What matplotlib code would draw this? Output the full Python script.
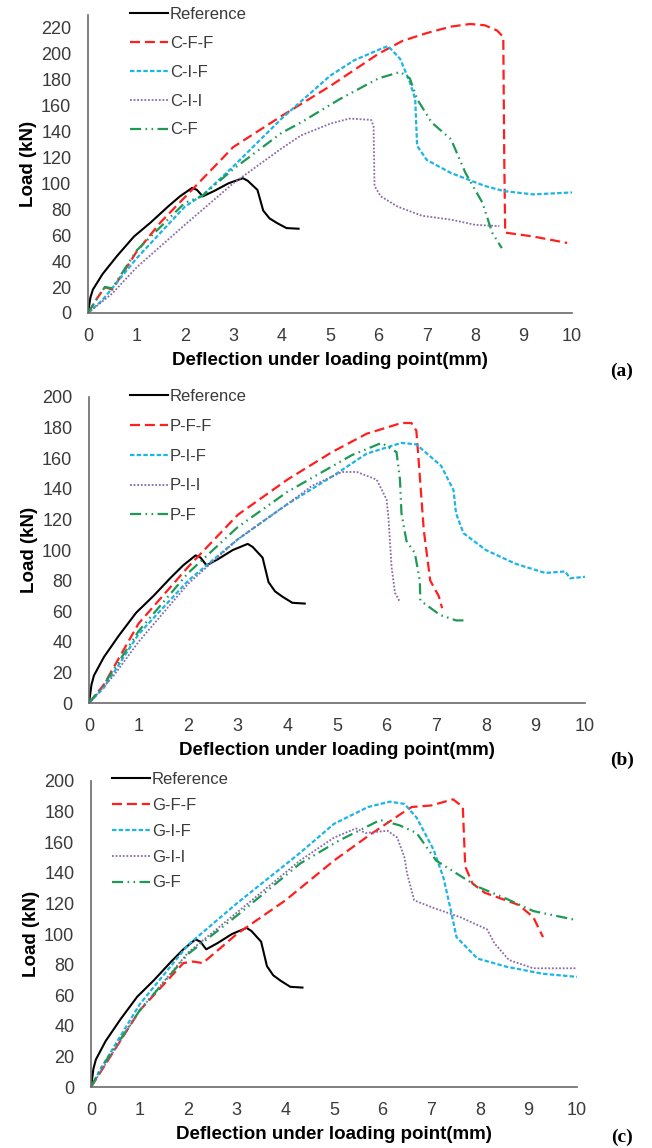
import matplotlib
matplotlib.use('Agg')
import matplotlib.pyplot as plt

plt.rcParams['font.family'] = ['Liberation Sans', 'DejaVu Sans']

# reference beam (same curve in every panel)
ref_x = [0, 0.05, 0.1, 0.3, 0.6, 0.95, 1.3, 1.65, 1.9, 2.15, 2.25, 2.37, 2.6, 2.9, 3.2, 3.3, 3.5, 3.62, 3.75, 3.9, 4.1, 4.35]
ref_y = [0, 12, 18, 30, 44, 59, 70, 82, 90, 96.5, 95, 90, 94, 100, 104, 102, 95, 79, 73, 69.5, 65.5, 65]

# (a) C series
cff_x = [0, 0.2, 0.35, 0.5, 1, 1.5, 2.2, 3, 4, 5, 6, 6.5, 7, 7.5, 7.9, 8.2, 8.45, 8.58, 8.6, 8.62, 9.2, 9.9]
cff_y = [0, 12, 20, 18, 47, 70, 97, 128, 152, 175, 200, 210, 216, 221, 223, 222, 218, 213, 120, 62, 59, 54]
cif_x = [0, 0.3, 1, 2, 2.4, 3, 4, 5, 5.5, 6.0, 6.2, 6.45, 6.65, 6.76, 6.8, 7.0, 7.5, 8.2, 8.6, 9.2, 10.0]
cif_y = [0, 10, 42, 82, 92, 113, 150, 183, 195, 203, 206, 196, 178, 165, 129, 118, 108, 98, 94, 91.5, 93]
cii_x = [0, 0.5, 1, 2, 3, 4, 4.4, 5, 5.4, 5.85, 5.9, 5.92, 6.05, 6.4, 6.9, 7.5, 8.0, 8.5]
cii_y = [0, 15, 35, 68, 100, 127, 137, 146, 150, 149, 144, 98, 90, 82, 75, 72, 68, 67]
cf_x = [0, 0.2, 0.35, 0.5, 1, 2, 2.35, 3, 4, 4.4, 5.2, 6.0, 6.45, 6.65, 6.8, 7.1, 7.5, 7.8, 8.15, 8.35, 8.55]
cf_y = [0, 12, 20, 19, 48, 85, 90, 111, 139, 147, 165, 181, 186, 181, 165, 147, 134, 108, 85, 62, 50]

# (b) P series
pff_x = [0, 0.3, 1, 2, 3, 4, 4.9, 5.6, 6.3, 6.5, 6.6, 6.65, 6.75, 6.88, 7.05, 7.12]
pff_y = [0, 12, 52, 89, 123, 146, 164, 176, 183, 183, 178, 157, 113, 80, 70, 62]
pif_x = [0, 0.3, 1, 2, 3, 4, 4.9, 5.6, 6.3, 6.6, 7.1, 7.35, 7.4, 7.55, 8.0, 8.6, 9.2, 9.6, 9.7, 10]
pif_y = [0, 10, 45, 80, 107, 130, 148, 163, 170, 169, 155, 139, 124, 111, 100, 91, 85, 86, 81.5, 82.5]
pii_x = [0, 0.5, 1, 2, 3, 4, 4.5, 5.1, 5.4, 5.8, 6.0, 6.04, 6.1, 6.17, 6.27]
pii_y = [0, 18, 40, 78, 107, 130, 142, 151, 151, 146, 133, 120, 89, 72, 66]
pf_x = [0, 0.3, 1, 2, 3, 4, 5.3, 5.9, 6.2, 6.27, 6.3, 6.4, 6.57, 6.67, 6.68, 7.08, 7.4, 7.55]
pf_y = [0, 12, 47, 85, 115, 138, 162, 170, 164, 146, 124, 106, 98, 80, 67, 57.5, 54, 54]

# (c) G series
gff_x = [0, 0.2, 1, 1.9, 2.1, 2.3, 3, 4, 5, 5.7, 6.4, 6.6, 7.0, 7.45, 7.65, 7.7, 7.85, 8.1, 8.8, 9.1, 9.3]
gff_y = [0, 10, 50, 81, 82, 81, 100, 122, 148, 164, 179, 183, 184, 188, 183, 144, 133, 127, 119, 111, 98]
gif_x = [0, 0.2, 1, 2, 3, 4.3, 5, 5.7, 6.15, 6.45, 6.7, 7.05, 7.25, 7.4, 7.52, 7.95, 8.55, 9.3, 10]
gif_y = [0, 12, 54, 93, 120, 153, 172, 183, 186.5, 185, 176, 155, 137, 116, 98, 84, 78.6, 74, 72]
gii_x = [0, 0.3, 1, 2, 3, 4.3, 5, 5.45, 5.65, 6.1, 6.3, 6.45, 6.5, 6.65, 7.05, 7.6, 8.15, 8.3, 8.6, 9.1, 10]
gii_y = [0, 15, 50, 88, 114, 148, 163, 169, 166, 167.5, 163, 150, 140, 122, 117, 111, 103, 94, 83, 77.6, 77.6]
gf_x = [0, 0.2, 1, 2, 3, 4.3, 5.1, 5.95, 6.35, 6.7, 7.1, 7.4, 7.95, 8.55, 9.1, 10]
gf_y = [0, 12, 50, 87, 112, 146, 161, 174.5, 171, 166, 148, 142, 131, 123, 115, 109]

panels = [
    dict(rect=[0.1350, 0.7274, 0.7423, 0.2596], ymax=230, yticks=range(0, 221, 20), tag='(a)', tagy=371,
         leg=(130, 7), spacing=0.83,
         series=[(cff_x, cff_y, 'C-F-F'), (cif_x, cif_y, 'C-I-F'), (cii_x, cii_y, 'C-I-I'), (cf_x, cf_y, 'C-F')]),
    dict(rect=[0.1365, 0.3876, 0.7607, 0.2666], ymax=200, yticks=range(0, 201, 20), tag='(b)', tagy=760,
         leg=(130, 389), spacing=0.89,
         series=[(pff_x, pff_y, 'P-F-F'), (pif_x, pif_y, 'P-I-F'), (pii_x, pii_y, 'P-I-I'), (pf_x, pf_y, 'P-F')]),
    dict(rect=[0.1396, 0.0531, 0.7454, 0.2666], ymax=200, yticks=range(0, 201, 20), tag='(c)', tagy=1137,
         leg=(112, 772), spacing=0.65,
         series=[(gff_x, gff_y, 'G-F-F'), (gif_x, gif_y, 'G-I-F'), (gii_x, gii_y, 'G-I-I'), (gf_x, gf_y, 'G-F')]),
]

styles = [
    dict(color='#ff1f1f', lw=1.6, dashes=(4.5, 2.2)),
    dict(color='#1db4e6', lw=1.6, dashes=(2, 1)),
    dict(color='#8a6aa8', lw=1.3, dashes=(1, 1)),
    dict(color='#1e9a55', lw=1.6, dashes=(5, 2, 0.7, 2, 0.7, 2)),
]

fig = plt.figure(figsize=(6.52, 11.48), dpi=100)
W, H = 652, 1148

for p in panels:
    ax = fig.add_axes(p['rect'])
    ax.plot(ref_x, ref_y, color='black', lw=1.5, label='Reference')
    for (x, y, name), st in zip(p['series'], styles):
        ax.plot(x, y, label=name, **st)
    ax.set_xlim(0, 10)
    ax.set_ylim(0, p['ymax'])
    ax.set_xticks(range(0, 11))
    ax.set_yticks(list(p['yticks']))
    ax.tick_params(length=0, labelsize=13, colors='#3a3a3a')
    ax.tick_params(axis='x', pad=11)
    ax.tick_params(axis='y', pad=12)
    for s in ['top', 'right']:
        ax.spines[s].set_visible(False)
    for s in ['left', 'bottom']:
        ax.spines[s].set_color('#6a6a6a')
        ax.spines[s].set_linewidth(1.2)
    ax.set_xlabel('Deflection under loading point(mm)', fontsize=13.5, fontweight='bold', labelpad=5)
    ax.set_ylabel('Load (kN)', fontsize=13.5, fontweight='bold', labelpad=3)
    lx, ly = p['leg']
    leg = ax.legend(loc='upper left', bbox_to_anchor=(lx / W, 1 - ly / H), bbox_transform=fig.transFigure,
                    frameon=False, fontsize=12, handlelength=2.3, handletextpad=0.1,
                    labelspacing=p['spacing'], borderpad=0, borderaxespad=0)
    for t in leg.get_texts():
        t.set_color('#3a3a3a')
    fig.text(622 / W, 1 - p['tagy'] / H, p['tag'], fontsize=14, fontweight='bold',
             family='Liberation Serif', ha='center', va='center')

fig.savefig('out.png', dpi=100)
